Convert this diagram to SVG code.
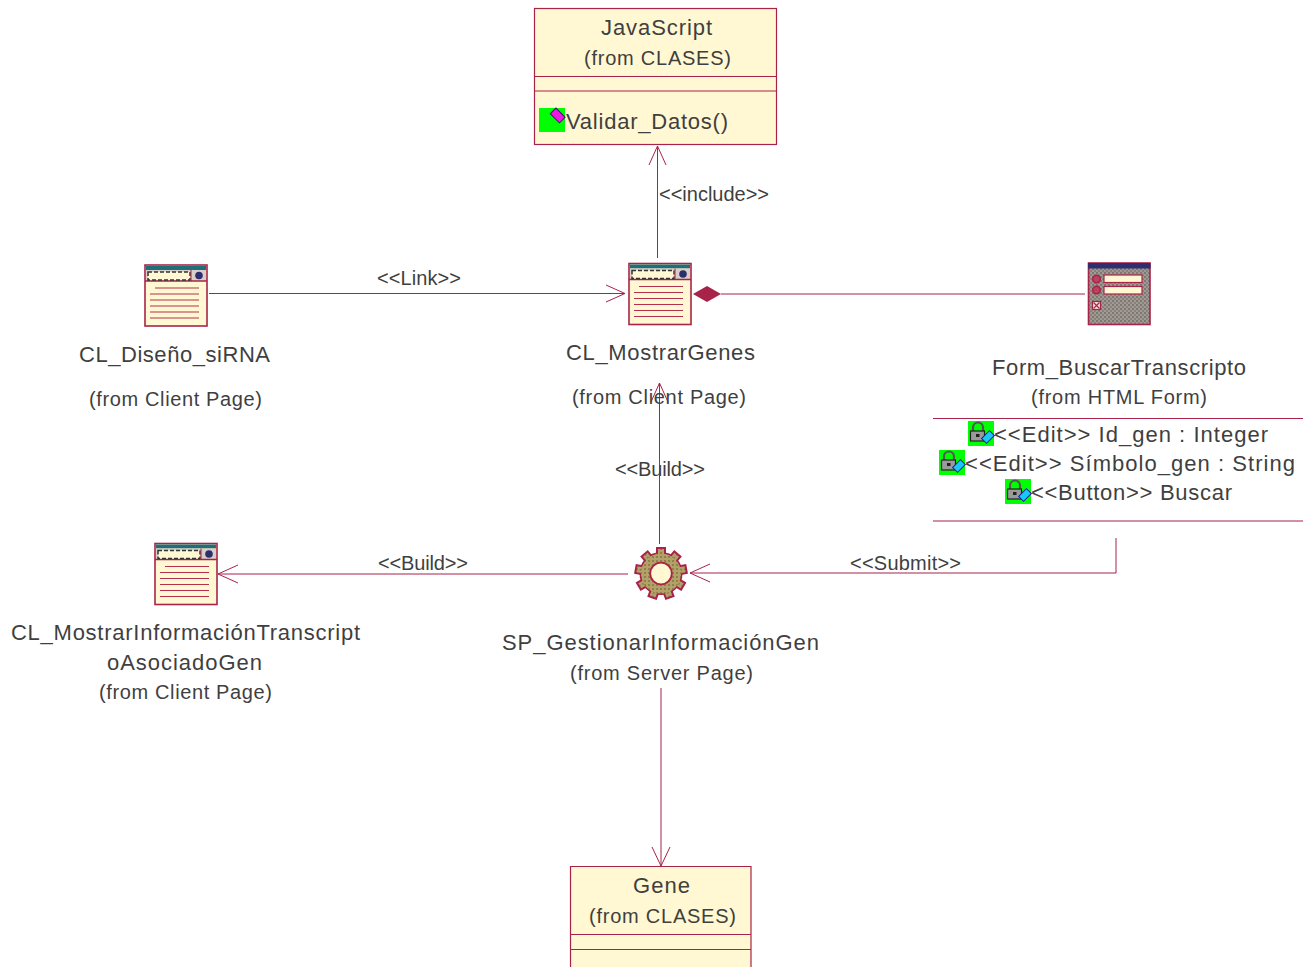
<svg xmlns="http://www.w3.org/2000/svg" xmlns:xlink="http://www.w3.org/1999/xlink" width="1315" height="967" viewBox="0 0 1315 967">
<style>
text{font-family:"Liberation Sans",Arial,sans-serif;fill:#3f3f3f}
.n{font-size:22px}
.f{font-size:20px}
.a{font-size:20px}
.box{fill:#fff8d2;stroke:#a8234a;stroke-width:1.2}
.sep{stroke:#a8234a;stroke-width:1.2;fill:none}
.c{fill:none;stroke:#a8234a;stroke-width:1}
.ic{stroke:#a8234a;stroke-width:1.6}
.rule{stroke:#b5304f;stroke-width:1.4}
</style>
<defs>
<pattern id="grey" width="4" height="4" patternUnits="userSpaceOnUse"><rect width="4" height="4" fill="#a09a94"/><rect width="2" height="2" fill="#7e7670"/><rect x="2" y="2" width="2" height="2" fill="#8a807c"/></pattern>
<pattern id="gold" width="4" height="4" patternUnits="userSpaceOnUse"><rect width="4" height="4" fill="#b3a268"/><rect width="2" height="2" fill="#927f4e"/></pattern>
<symbol id="page" width="62" height="62" viewBox="0 0 62 62" overflow="visible">
<rect x="0" y="0" width="62" height="61" fill="#fff8d2" stroke="#a8234a" stroke-width="1.6"/>
<rect x="1" y="1" width="60" height="4" fill="#1f6f7a"/>
<rect x="1" y="5" width="60" height="11" fill="#d9cfc8"/>
<line x1="0" y1="16" x2="62" y2="16" stroke="#a8234a" stroke-width="1.4"/>
<rect x="3" y="7" width="42" height="8" fill="#fff8d2" stroke="#333" stroke-width="1.5" stroke-dasharray="4 2"/>
<line x1="46" y1="5" x2="46" y2="16" stroke="#a8234a"/>
<circle cx="54" cy="10.500" r="3.800" fill="#2b2f6e"/>
<g stroke="#b5304f" stroke-width="1.200">
<line x1="10" y1="23" x2="54" y2="23"/><line x1="5" y1="29" x2="54" y2="29"/><line x1="5" y1="35" x2="54" y2="35"/><line x1="5" y1="41" x2="54" y2="41"/><line x1="5" y1="47" x2="54" y2="47"/><line x1="5" y1="53" x2="54" y2="53"/>
</g>
</symbol>
<symbol id="lock" width="26" height="25" viewBox="0 0 26 25" overflow="visible">
<rect width="26" height="25" fill="#00ff00"/>
<path d="M5 10V6.500a5 5 0 0 1 10 0V10" fill="none" stroke="#555" stroke-width="2.200"/>
<rect x="2.500" y="10" width="14" height="10" fill="#9a9a9a" stroke="#222" stroke-width="1.200"/>
<rect x="8" y="13" width="3.500" height="3" fill="#222"/>
<rect x="14.500" y="12.500" width="11" height="7" transform="rotate(-45 20 16)" fill="#19c8f5" stroke="#1a1a9a" stroke-width="1"/>
</symbol>
<symbol id="tick" viewBox="0 0 1 1"/>
</defs>

<g id="connectors">
<path class="c" d="M657.500 258V146M649 165L657.500 146L666 165"/>
<path class="c" d="M209 293.500H625M606 285L625 293.500L606 302"/>
<path class="c" d="M721 294H1085"/>
<path d="M693 294L707 286L721 294L707 302Z" fill="#a8234a"/>
<path class="c" d="M659.500 544V383M651 402L659.500 383L668 402"/>
<path class="c" d="M628 574H218M238 565L218 574L238 583"/>
<path class="c" d="M1116 538V573H690M710 564L690 573L710 582"/>
<path class="c" d="M661 688V866M652 847L661 866L670 847"/>
</g>

<g id="node-javascript">
<rect class="box" x="534.500" y="8.500" width="242" height="136"/>
<line class="sep" x1="534.500" y1="76.500" x2="776.500" y2="76.500"/>
<line class="sep" x1="534.500" y1="91" x2="776.500" y2="91"/>
<text class="n" x="601" y="35" textLength="111">JavaScript</text>
<text class="f" x="584" y="65" textLength="147">(from CLASES)</text>
<rect x="539" y="108" width="26" height="24" fill="#00ff00"/>
<rect x="551" y="111.500" width="13" height="8" transform="rotate(45 557.700 115.700)" fill="#f018e0" stroke="#222060" stroke-width="1"/>
<text class="n" x="566" y="129" textLength="162">Validar_Datos()</text>
</g>

<g id="node-cl-diseno-sirna">
<use href="#page" x="145" y="265"/>
<text class="n" x="79" y="362" textLength="191">CL_Diseño_siRNA</text>
<text class="f" x="89" y="406" textLength="173">(from Client Page)</text>
</g>

<g id="node-cl-mostrargenes">
<use href="#page" x="629" y="263.500"/>
<text class="n" x="566" y="360" textLength="189">CL_MostrarGenes</text>
<text class="f" x="572" y="404" textLength="174">(from Client Page)</text>
</g>

<g id="node-form-buscartranscripto">
<rect x="1088.500" y="263" width="61.500" height="61.500" fill="url(#grey)" stroke="#a8234a" stroke-width="1.600"/>
<rect x="1088" y="263" width="62.500" height="5.500" fill="#2f2f6f"/>
<circle cx="1096.500" cy="279" r="3.800" fill="#c04060" stroke="#a8234a" stroke-width="1.500"/>
<circle cx="1096.500" cy="290" r="3.800" fill="#c04060" stroke="#a8234a" stroke-width="1.500"/>
<rect x="1104" y="275" width="38" height="7.500" fill="#fff8d2" stroke="#a8234a" stroke-width="1.200"/>
<rect x="1104" y="286.500" width="38" height="7.500" fill="#fff8d2" stroke="#a8234a" stroke-width="1.200"/>
<rect x="1092.500" y="301.500" width="8" height="8" fill="#f4e8d8" stroke="#a8234a" stroke-width="1.200"/>
<path d="M1093.500 302.500l6 6M1099.500 302.500l-6 6" stroke="#a8234a" stroke-width="1.200"/>
<text class="n" x="992" y="375" textLength="254">Form_BuscarTranscripto</text>
<text class="f" x="1031" y="404" textLength="176">(from HTML Form)</text>
<line class="sep" x1="933" y1="418.500" x2="1303" y2="418.500"/>
<use href="#lock" x="968" y="421"/>
<text class="n" x="994" y="442" textLength="274">&lt;&lt;Edit&gt;&gt; Id_gen : Integer</text>
<use href="#lock" x="939" y="450"/>
<text class="n" x="965" y="471" textLength="330">&lt;&lt;Edit&gt;&gt; Símbolo_gen : String</text>
<use href="#lock" x="1005" y="479"/>
<text class="n" x="1031" y="500" textLength="201">&lt;&lt;Button&gt;&gt; Buscar</text>
<line class="sep" x1="933" y1="521" x2="1303" y2="521"/>
</g>

<g id="node-cl-mostrarinformacion">
<use href="#page" x="155" y="543.500"/>
<text class="n" x="11" y="640" textLength="349">CL_MostrarInformaciónTranscript</text>
<text class="n" x="107" y="670" textLength="155">oAsociadoGen</text>
<text class="f" x="99" y="699" textLength="173">(from Client Page)</text>
</g>

<g id="node-sp-gestionarinformaciongen">
<circle cx="661" cy="573.500" r="20.500" fill="url(#gold)" stroke="#a8234a" stroke-width="2"/>
<g fill="url(#gold)" stroke="#a8234a" stroke-width="2">
<rect x="657" y="548" width="8" height="8"/>
<rect x="657" y="548" width="8" height="8" transform="rotate(40 661 573.500)"/>
<rect x="657" y="548" width="8" height="8" transform="rotate(80 661 573.500)"/>
<rect x="657" y="548" width="8" height="8" transform="rotate(120 661 573.500)"/>
<rect x="657" y="548" width="8" height="8" transform="rotate(160 661 573.500)"/>
<rect x="657" y="548" width="8" height="8" transform="rotate(200 661 573.500)"/>
<rect x="657" y="548" width="8" height="8" transform="rotate(240 661 573.500)"/>
<rect x="657" y="548" width="8" height="8" transform="rotate(280 661 573.500)"/>
<rect x="657" y="548" width="8" height="8" transform="rotate(320 661 573.500)"/>
</g>
<circle cx="661" cy="573.500" r="20" fill="url(#gold)"/>
<circle cx="661" cy="573.500" r="10.800" fill="#fff8d2" stroke="#a8234a" stroke-width="1.800"/>
<text class="n" x="502" y="650" textLength="317">SP_GestionarInformaciónGen</text>
<text class="f" x="570" y="680" textLength="183">(from Server Page)</text>
</g>

<g id="node-gene">
<path class="box" d="M570.500 968V866.500H751V968"/>
<line class="sep" x1="570.500" y1="934.500" x2="751" y2="934.500"/>
<line class="sep" x1="570.500" y1="949.500" x2="751" y2="949.500"/>
<text class="n" x="633" y="893" textLength="57">Gene</text>
<text class="f" x="589" y="923" textLength="147">(from CLASES)</text>
</g>

<g id="connector-labels">
<text class="a" x="659" y="201" textLength="110">&lt;&lt;include&gt;&gt;</text>
<text class="a" x="377" y="285" textLength="84">&lt;&lt;Link&gt;&gt;</text>
<text class="a" x="615" y="476" textLength="90">&lt;&lt;Build&gt;&gt;</text>
<text class="a" x="378" y="570" textLength="90">&lt;&lt;Build&gt;&gt;</text>
<text class="a" x="850" y="570" textLength="111">&lt;&lt;Submit&gt;&gt;</text>
</g>
</svg>
